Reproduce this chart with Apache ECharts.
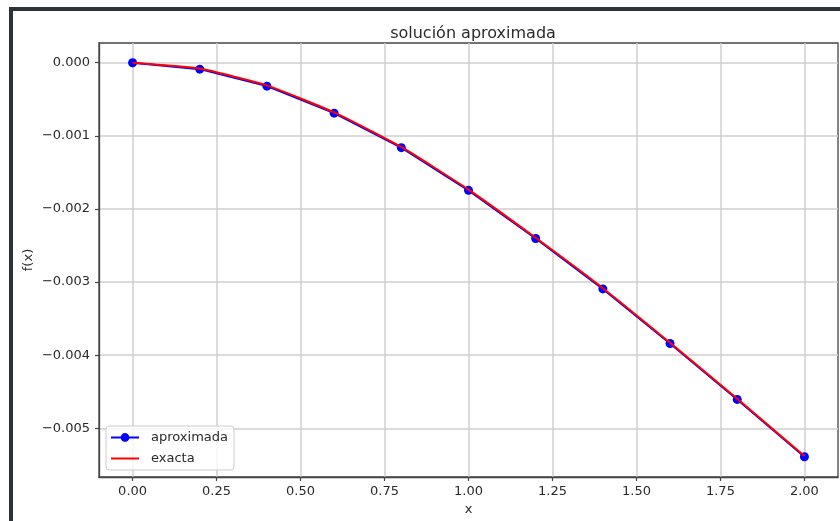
<!DOCTYPE html>
<html>
<head>
<meta charset="utf-8">
<script src="https://cdn.jsdelivr.net/npm/echarts@6/dist/echarts.min.js"></script>
<style>
html,body{margin:0;padding:0;background:#fff;}
#chart{width:840px;height:521px;}
</style>
</head>
<body>
<div id="chart"></div>
<script>
// ---- data ----
const xValues = [0.0, 0.2, 0.4, 0.6, 0.8, 1.0, 1.2, 1.4, 1.6, 1.8, 2.0];
const aproximada = [0, -0.0000874, -0.000320, -0.000689, -0.001161, -0.001745, -0.002404, -0.003093, -0.003839, -0.004604, -0.005388];
const exacta = [0, -0.000080, -0.000310, -0.000679, -0.001151, -0.001735, -0.002394, -0.003083, -0.003829, -0.004594, -0.005379];
const xTicks = [0.00, 0.25, 0.50, 0.75, 1.00, 1.25, 1.50, 1.75, 2.00];
const yTicks = [0.000, -0.001, -0.002, -0.003, -0.004, -0.005];
const titleText = 'solución aproximada';
const xName = 'x';
const yName = 'f(x)';
const seriesNames = ['aproximada', 'exacta'];

const FONT = 'DejaVu Sans';
const TXT = '#2a2a2a';

const chart = echarts.init(document.getElementById('chart'), null, {renderer: 'canvas'});
const pair = (xs, ys) => xs.map((x, i) => [x, ys[i]]);

chart.setOption({
  animation: false,
  backgroundColor: '#ffffff',
  title: {
    text: titleText,
    left: 468, textAlign: 'center',
    top: 21,
    textStyle: {fontFamily: FONT, fontSize: 16, fontWeight: 'normal', color: TXT}
  },
  grid: {
    left: 99, right: 2, top: 43, bottom: 44,
    show: true, borderColor: '#444', borderWidth: 1.3, backgroundColor: 'transparent'
  },
  legend: {
    data: [
      {name: seriesNames[0]},
      {name: seriesNames[1], icon: 'path://M0,0 L28,0 L28,2 L0,2 Z'}
    ],
    orient: 'vertical',
    left: 106, top: 426,
    itemWidth: 28, itemHeight: 11, itemGap: 8,
    padding: [5, 6, 5, 4],
    backgroundColor: 'rgba(255,255,255,0.8)',
    borderColor: '#cccccc', borderWidth: 1, borderRadius: 3,
    textStyle: {fontFamily: FONT, fontSize: 13, color: TXT, padding: [0, 0, 0, 7]}
  },
  xAxis: {
    type: 'value', min: -0.1, max: 2.1,
    name: xName, nameLocation: 'middle', nameGap: 26, nameMoveOverlap: false,
    nameTextStyle: {fontFamily: FONT, fontSize: 13, color: TXT},
    axisLine: {show: true, onZero: false, lineStyle: {color: '#444', width: 1.3}},
    axisTick: {show: true, inside: false, length: 4, lineStyle: {color: '#444', width: 1.2}, customValues: xTicks},
    axisLabel: {fontFamily: FONT, fontSize: 13, color: TXT, margin: 8, customValues: xTicks,
      formatter: v => v.toFixed(2)},
    splitLine: {show: true, lineStyle: {color: '#cfcfcf', width: 1.5}}
  },
  yAxis: {
    type: 'value', min: -0.005665, max: 0.00027,
    name: yName, nameLocation: 'middle', nameGap: 64, nameRotate: 90, nameMoveOverlap: false,
    nameTextStyle: {fontFamily: FONT, fontSize: 13, color: TXT},
    axisLine: {show: true, onZero: false, lineStyle: {color: '#444', width: 1.3}},
    axisTick: {show: true, inside: false, length: 4, lineStyle: {color: '#444', width: 1.2}, customValues: yTicks},
    axisLabel: {fontFamily: FONT, fontSize: 13, color: TXT, margin: 9, customValues: yTicks,
      formatter: v => v.toFixed(3).replace('-', '\u2212')},
    splitLine: {show: true, lineStyle: {color: '#cfcfcf', width: 1.5}}
  },
  series: [
    {
      name: seriesNames[0], type: 'line',
      data: pair(xValues, aproximada),
      symbol: 'circle', symbolSize: 9,
      itemStyle: {color: '#0000ff'},
      lineStyle: {color: '#0000ff', width: 2},
      z: 3
    },
    {
      name: seriesNames[1], type: 'line',
      data: pair(xValues, exacta),
      symbol: 'none', smooth: 0.15,
      itemStyle: {color: '#ff0000'},
      lineStyle: {color: '#ff0000', width: 2},
      z: 4
    }
  ],
  graphic: [
    {type: 'rect', shape: {x: 9, y: 7, width: 831, height: 4}, style: {fill: '#2b323a'}, silent: true},
    {type: 'rect', shape: {x: 9, y: 7, width: 4, height: 514}, style: {fill: '#2b323a'}, silent: true}
  ]
});
</script>
</body>
</html>
